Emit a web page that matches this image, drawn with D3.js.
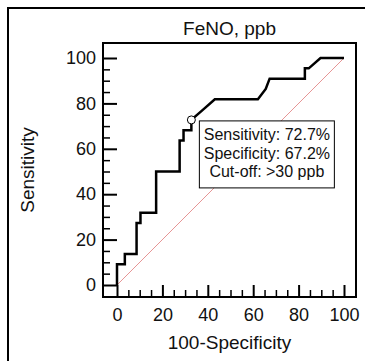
<!DOCTYPE html>
<html>
<head>
<meta charset="utf-8">
<script src="https://cdn.jsdelivr.net/npm/d3@7"></script>
<style>
    body { margin: 0; background: #fff; }
    svg text { font-family: Arial, "Liberation Sans", sans-serif; fill: #111; }
</style>
</head>
<body>
<div id="chart"></div>
<script>
'use strict';

// ROC curve points (100-specificity, sensitivity)
var fpr = [0, 0, 3.45, 3.45, 8.62, 8.62, 10.34, 10.34, 17.24, 17.24, 27.59, 27.59,
    29.31, 29.31, 32.76, 32.76, 37.93, 43.10, 62.07, 65.52, 67.24, 82.76, 82.76,
    84.48, 89.66, 100];
var tpr = [0, 9.09, 9.09, 13.64, 13.64, 27.27, 27.27, 31.82, 31.82, 50, 50, 63.64,
    63.64, 68.18, 68.18, 72.73, 77.27, 81.82, 81.82, 86.36, 90.91, 90.91, 95.45,
    95.45, 100, 100];
var cutPoint = [32.76, 72.73];
var majorTicks = [0, 20, 40, 60, 80, 100];
var minorTicks = [5, 10, 15, 25, 30, 35, 45, 50, 55, 65, 70, 75, 85, 90, 95];
var boxLines = ['Sensitivity: 72.7%', 'Specificity: 67.2%', 'Cut-off: >30 ppb'];
var title = 'FeNO, ppb',
    xTitle = '100-Specificity',
    yTitle = 'Sensitivity';

var width = 365,
    height = 361;
var frame = {left: 103, top: 43, right: 356, bottom: 297};

var svg = d3.select('#chart')
    .append('svg')
    .attr('width', width)
    .attr('height', height);

var x = d3.scaleLinear().domain([0, 100]).range([117, 344]);
var y = d3.scaleLinear().domain([0, 100]).range([285, 58]);

// outer border, cut off on right and bottom
svg.append('rect')
    .attr('x', 8).attr('y', 8)
    .attr('width', 400).attr('height', 400)
    .attr('fill', 'none')
    .attr('stroke', '#000')
    .attr('stroke-width', 2);

// diagonal reference line
svg.append('line')
    .attr('x1', x(0)).attr('y1', y(0))
    .attr('x2', x(100)).attr('y2', y(100))
    .attr('stroke', '#e07a7a')
    .attr('stroke-width', 0.8);

// y ticks (inside the frame)
var yMajor = svg.append('g')
    .attr('transform', 'translate(' + frame.left + ',0)')
    .call(d3.axisRight(y).tickValues(majorTicks).tickSize(x(0) - frame.left).tickFormat(''));
var yMinor = svg.append('g')
    .attr('transform', 'translate(' + frame.left + ',0)')
    .call(d3.axisRight(y).tickValues(minorTicks).tickSize(7).tickFormat(''));
var yLabels = svg.append('g')
    .attr('transform', 'translate(' + frame.left + ',0)')
    .call(d3.axisLeft(y).tickValues(majorTicks).tickSize(0).tickPadding(7));

// x ticks (inside the frame)
var xMajor = svg.append('g')
    .attr('transform', 'translate(0,' + frame.bottom + ')')
    .call(d3.axisTop(x).tickValues(majorTicks).tickSize(frame.bottom - y(0)).tickFormat(''));
var xMinor = svg.append('g')
    .attr('transform', 'translate(0,' + frame.bottom + ')')
    .call(d3.axisTop(x).tickValues(minorTicks).tickSize(7).tickFormat(''));
var xLabels = svg.append('g')
    .attr('transform', 'translate(0,' + frame.bottom + ')')
    .call(d3.axisBottom(x).tickValues(majorTicks).tickSize(0).tickPadding(11));

[yMajor, yMinor, yLabels, xMajor, xMinor, xLabels].forEach(function(g) {
    g.select('.domain').remove();
    g.selectAll('text').style('font-size', '18px').attr('fill', '#111');
});
yMajor.selectAll('line').attr('stroke', '#000').attr('stroke-width', 2);
xMajor.selectAll('line').attr('stroke', '#000').attr('stroke-width', 2);
yMinor.selectAll('line').attr('stroke', '#000').attr('stroke-width', 1.5);
xMinor.selectAll('line').attr('stroke', '#000').attr('stroke-width', 1.5);

// plot frame
svg.append('rect')
    .attr('x', frame.left).attr('y', frame.top)
    .attr('width', frame.right - frame.left)
    .attr('height', frame.bottom - frame.top)
    .attr('fill', 'none')
    .attr('stroke', '#000')
    .attr('stroke-width', 2);

// ROC curve
var line = d3.line()
    .x(function(d) { return x(d[0]); })
    .y(function(d) { return y(d[1]); });

svg.append('path')
    .datum(d3.zip(fpr, tpr))
    .attr('d', line)
    .attr('fill', 'none')
    .attr('stroke', '#000')
    .attr('stroke-width', 2.5)
    .attr('stroke-linejoin', 'miter');

// annotation box
var bx = x(cutPoint[0]) + 8,
    by = y(cutPoint[1]) + 1;
svg.append('rect')
    .attr('x', bx).attr('y', by)
    .attr('width', 135).attr('height', 67)
    .attr('fill', '#fff')
    .attr('stroke', '#000')
    .attr('stroke-width', 1);
svg.append('g').selectAll('text')
    .data(boxLines)
    .join('text')
    .attr('x', bx + 67.5)
    .attr('y', function(d, i) { return by + 19.5 + i * 18.5; })
    .attr('text-anchor', 'middle')
    .style('font-size', '16px')
    .text(function(d) { return d; });

// cut-off marker
svg.append('circle')
    .attr('cx', x(cutPoint[0]))
    .attr('cy', y(cutPoint[1]))
    .attr('r', 4)
    .attr('fill', '#fff')
    .attr('stroke', '#000')
    .attr('stroke-width', 1);

// titles
var cx = (frame.left + frame.right) / 2;
svg.append('text')
    .attr('x', cx).attr('y', 35)
    .attr('text-anchor', 'middle')
    .style('font-size', '19px')
    .text(title);
svg.append('text')
    .attr('x', cx).attr('y', 349)
    .attr('text-anchor', 'middle')
    .style('font-size', '19px')
    .text(xTitle);
svg.append('text')
    .attr('transform', 'translate(34,' + ((frame.top + frame.bottom) / 2) + ') rotate(-90)')
    .attr('text-anchor', 'middle')
    .style('font-size', '19px')
    .text(yTitle);
</script>
</body>
</html>
